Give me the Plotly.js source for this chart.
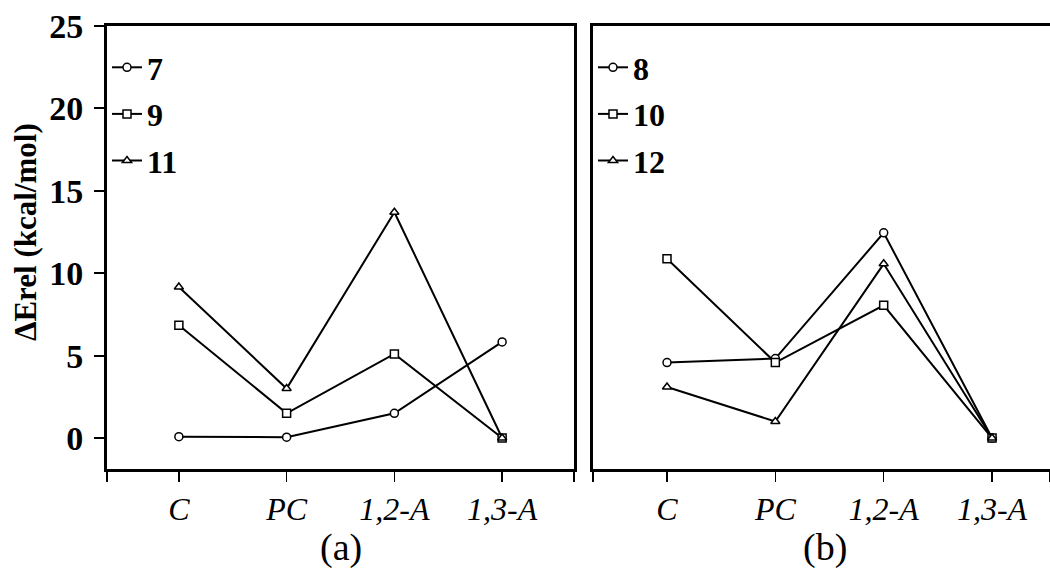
<!DOCTYPE html>
<html>
<head>
<meta charset="utf-8">
<script src="https://cdn.plot.ly/plotly-3.0.1.min.js"></script>
<style>html,body{margin:0;padding:0;background:#fff;}#chart{width:1050px;height:574px;}</style>
</head>
<body>
<div id="chart"></div>
<script>
// Categories (x axis) shared by both panels
const categories = ['C', 'PC', '1,2-A', '1,3-A'];

// Panel (a) series
const series7  = [0.08, 0.05, 1.5, 5.83];
const series9  = [6.84, 1.5, 5.1, 0.0];
const series11 = [9.16, 3.0, 13.7, 0.0];

// Panel (b) series
const series8  = [4.58, 4.82, 12.45, 0.0];
const series10 = [10.88, 4.58, 8.05, 0.0];
const series12 = [3.1, 1.0, 10.57, 0.0];

const yTicks = [0, 5, 10, 15, 20, 25];
const panelLabels = ['(a)', '(b)'];
const yTitle = 'ΔErel (kcal/mol)';

const xIdx = categories.map((_, i) => i);
const SERIF = 'Liberation Serif, Times New Roman, serif';

function tr(name, y, symbol, xa, ya, legend, group) {
  return {
    type: 'scatter', mode: 'lines+markers', name: name,
    x: xIdx, y: y, xaxis: xa, yaxis: ya, legend: legend, legendgroup: group,
    line: {color: '#000', width: 2},
    marker: {symbol: symbol, size: 8, color: '#fff', line: {color: '#000', width: 1.5}}
  };
}

const data = [
  tr('7', series7, 'circle', 'x', 'y', 'legend', 'g7'),
  tr('9', series9, 'square', 'x', 'y', 'legend', 'g9'),
  tr('11', series11, 'triangle-up', 'x', 'y', 'legend', 'g11'),
  tr('8', series8, 'circle', 'x2', 'y2', 'legend2', 'g8'),
  tr('10', series10, 'square', 'x2', 'y2', 'legend2', 'g10'),
  tr('12', series12, 'triangle-up', 'x2', 'y2', 'legend2', 'g12')
];

const W = 1050, H = 574;
const xRangeA = [-0.667, 3.667];
const xRangeB = [-0.683, 3.535];
const yRange = [-1.88, 25];

function xaxis(domain, range, anchor) {
  return {
    domain: domain, range: range, anchor: anchor,
    tickmode: 'array',
    tickvals: [range[0]].concat(xIdx, [range[1]]),
    ticktext: [''].concat(categories, ['']),
    ticks: 'outside', ticklen: 10, tickwidth: 1.5, tickcolor: '#000',
    showline: true, linewidth: 3, linecolor: '#000', mirror: true,
    showgrid: false, zeroline: false, fixedrange: true,
    tickfont: {family: SERIF, size: 32, color: '#000', style: 'italic'}
  };
}

const legendFont = {family: SERIF, size: 32, color: '#000', weight: 'bold'};
const legendBase = {
  xanchor: 'left', yanchor: 'top', bgcolor: 'rgba(0,0,0,0)', borderwidth: 0,
  font: legendFont, traceorder: 'grouped', tracegroupgap: 2, itemwidth: 30
};

const layout = {
  width: W, height: H,
  margin: {l: 0, r: 0, t: 26, b: 105, pad: 0},
  paper_bgcolor: '#fff', plot_bgcolor: '#fff',
  showlegend: true,
  xaxis: xaxis([107 / W, 574 / W], xRangeA, 'y'),
  xaxis2: xaxis([593 / W, 1], xRangeB, 'y2'),
  yaxis: {
    domain: [0, 1], range: yRange, anchor: 'x',
    tickmode: 'array', tickvals: yTicks,
    ticks: 'outside', ticklen: 10, tickwidth: 2, tickcolor: '#000',
    ticklabelstandoff: 4,
    showline: true, linewidth: 3, linecolor: '#000', mirror: true,
    showgrid: false, zeroline: false, fixedrange: true,
    tickfont: {family: SERIF, size: 34, color: '#000', weight: 'bold'}
  },
  yaxis2: {
    domain: [0, 1], range: yRange, anchor: 'x2',
    showticklabels: false, ticks: '',
    showline: true, linewidth: 3, linecolor: '#000', mirror: false,
    showgrid: false, zeroline: false, fixedrange: true
  },
  legend: Object.assign({x: 107 / W, y: 1 - 14 / 443}, legendBase),
  legend2: Object.assign({x: 593 / W, y: 1 - 14 / 443}, legendBase),
  annotations: [
    {text: panelLabels[0], xref: 'paper', yref: 'paper', x: (107 + 574) / 2 / W, y: -(547 - 469) / 443,
     xanchor: 'center', yanchor: 'middle', showarrow: false,
     font: {family: SERIF, size: 38, color: '#000'}},
    {text: panelLabels[1], xref: 'paper', yref: 'paper', x: 825 / W, y: -(547 - 469) / 443,
     xanchor: 'center', yanchor: 'middle', showarrow: false,
     font: {family: SERIF, size: 38, color: '#000'}},
    {text: yTitle, xref: 'paper', yref: 'paper', x: 26 / W, y: (469 - 232) / 443,
     xanchor: 'center', yanchor: 'middle', showarrow: false, textangle: -90,
     font: {family: SERIF, size: 31, color: '#000', weight: 'bold'}}
  ]
};

Plotly.newPlot('chart', data, layout, {displayModeBar: false, staticPlot: true});
</script>
</body>
</html>
